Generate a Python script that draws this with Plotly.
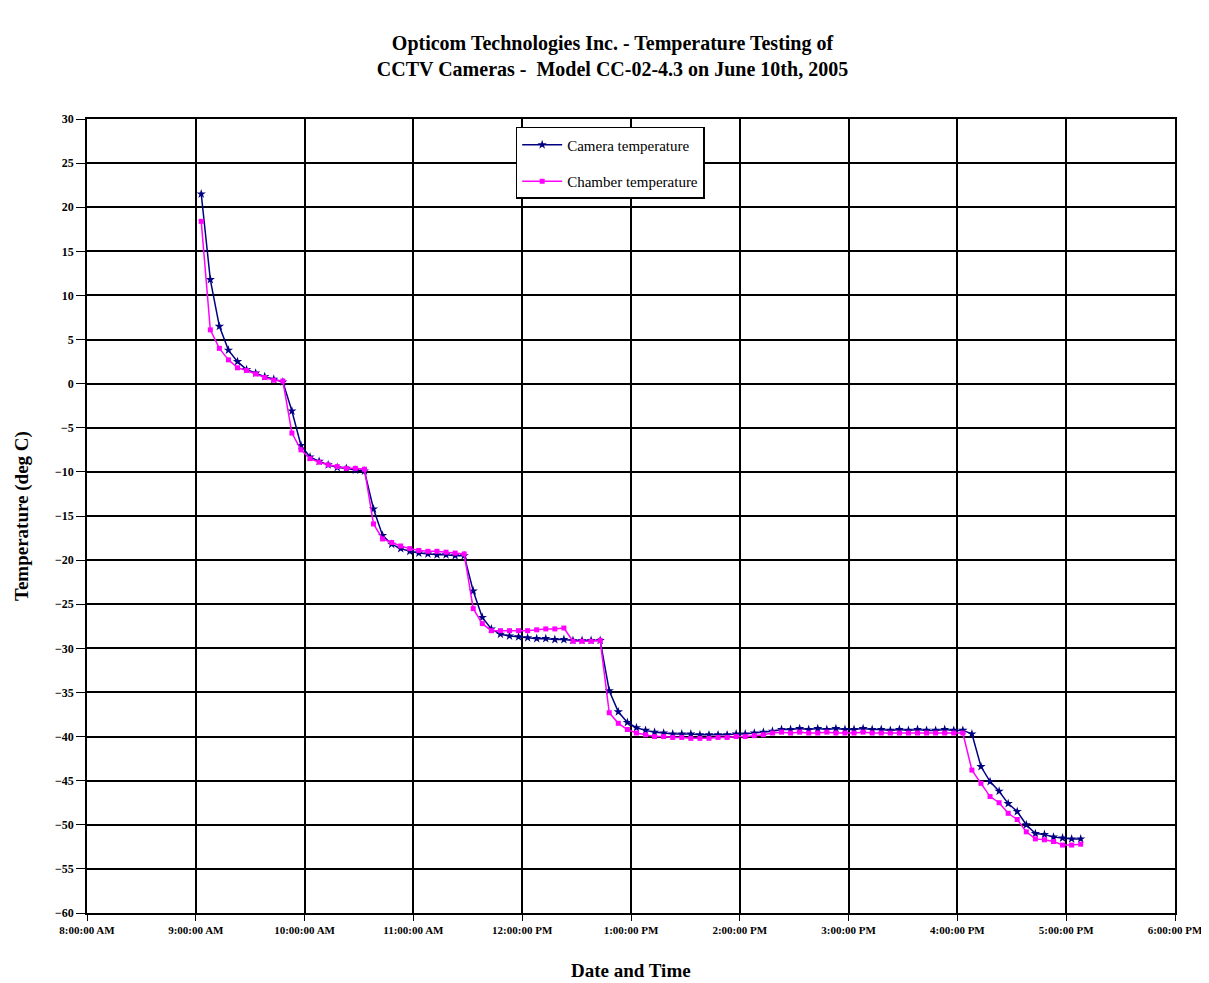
import pandas as pd
import plotly.graph_objects as go

# Sampling: logger readings every 5 minutes starting 9:03 AM
start_time = "2005-06-10 09:03:00"
interval_minutes = 5

camera_temp = [
    21.5, 11.8, 6.5, 3.8, 2.5, 1.6, 1.2, 0.8, 0.5, 0.2,
    -3.1, -7.0, -8.3, -8.8, -9.2, -9.5, -9.6, -9.8, -9.9,
    -14.2, -17.2, -18.2, -18.7, -19.0, -19.2, -19.3, -19.4, -19.4, -19.5, -19.5,
    -23.5, -26.5, -27.8, -28.4, -28.6, -28.7, -28.8, -28.9, -28.9, -29.0, -29.0,
    -29.1, -29.1, -29.1, -29.1,
    -34.8, -37.2, -38.4, -39.0, -39.3, -39.5, -39.6, -39.7, -39.7, -39.7, -39.8,
    -39.8, -39.8, -39.8, -39.7, -39.7, -39.6, -39.5, -39.4, -39.2,
    -39.2, -39.1, -39.2, -39.1, -39.2, -39.1, -39.2, -39.2, -39.1, -39.2,
    -39.2, -39.3, -39.2, -39.3, -39.2, -39.3, -39.3, -39.2, -39.3, -39.3,
    -39.7, -43.4, -45.1, -46.2, -47.6, -48.5, -50.0, -51.0, -51.1, -51.4,
    -51.5, -51.6, -51.6,
]

chamber_temp = [
    18.4, 6.1, 4.0, 2.7, 1.8, 1.5, 1.1, 0.7, 0.4, 0.3,
    -5.6, -7.5, -8.5, -8.9, -9.2, -9.4, -9.6, -9.6, -9.7,
    -15.9, -17.6, -18.0, -18.4, -18.7, -18.9, -19.0, -19.0, -19.1, -19.2, -19.3,
    -25.5, -27.2, -28.0, -28.0, -28.0, -28.0, -28.0, -27.9, -27.8, -27.8, -27.7,
    -29.2, -29.2, -29.2, -29.1,
    -37.3, -38.5, -39.2, -39.6, -39.8, -40.0, -40.0, -40.1, -40.1, -40.2, -40.2,
    -40.2, -40.1, -40.1, -40.0, -40.0, -39.9, -39.8, -39.6, -39.5,
    -39.6, -39.5, -39.6, -39.6, -39.5, -39.6, -39.6, -39.6, -39.5, -39.6,
    -39.6, -39.6, -39.6, -39.6, -39.6, -39.6, -39.6, -39.6, -39.6, -39.6,
    -43.8, -45.3, -46.8, -47.5, -48.7, -49.4, -50.8, -51.6, -51.7, -51.9,
    -52.3, -52.3, -52.2,
]

times = pd.date_range(start_time, periods=len(camera_temp), freq=f"{interval_minutes}min")

x_tick_vals = pd.date_range("2005-06-10 08:00:00", "2005-06-10 18:00:00", freq="1h")
x_tick_text = [t.strftime("%-I:%M:%S %p") for t in x_tick_vals]
y_tick_vals = list(range(-60, 31, 5))

serif = "Liberation Serif, Times New Roman, serif"

fig = go.Figure()
fig.add_trace(go.Scatter(
    x=times, y=camera_temp, mode="lines+markers", name="Camera temperature",
    legendgroup="cam",
    line=dict(color="#000080", width=1.5),
    marker=dict(symbol="star", size=7, color="#000080"),
))
fig.add_trace(go.Scatter(
    x=times, y=chamber_temp, mode="lines+markers", name="Chamber temperature",
    legendgroup="chm",
    line=dict(color="#FF00FF", width=1.5),
    marker=dict(symbol="square", size=5, color="#FF00FF"),
))

fig.update_layout(
    width=1209, height=983,
    paper_bgcolor="white", plot_bgcolor="white",
    margin=dict(l=79, r=42, t=111, b=78),
    title=dict(
        text="<b>Opticom Technologies Inc. - Temperature Testing of<br>CCTV Cameras -  Model CC-02-4.3 on June 10th, 2005</b>",
        x=0.5, xanchor="center", y=0.957, yanchor="middle",
        font=dict(family=serif, size=20, color="black"),
    ),
    font=dict(family=serif, color="black"),
    showlegend=True,
    legend=dict(
        x=0.394, y=0.99, xanchor="left", yanchor="top",
        bgcolor="white", bordercolor="black", borderwidth=1.5,
        font=dict(family=serif, size=15, color="black"),
        itemwidth=40, tracegroupgap=14,
    ),
    annotations=[
        dict(text="<b>Temperature (deg C)</b>", textangle=-90,
             xref="paper", yref="paper", x=-0.0597, y=0.5,
             xanchor="center", yanchor="middle", showarrow=False,
             font=dict(family=serif, size=19, color="black")),
        dict(text="<b>Date and Time</b>",
             xref="paper", yref="paper", x=0.5, y=-0.0718,
             xanchor="center", yanchor="middle", showarrow=False,
             font=dict(family=serif, size=19, color="black")),
    ],
)

fig.update_xaxes(
    range=[x_tick_vals[0], x_tick_vals[-1]],
    tickvals=x_tick_vals, ticktext=x_tick_text,
    tickfont=dict(family=serif, size=11, color="black", weight="bold"),
    showgrid=True, gridcolor="black", gridwidth=1.5,
    showline=True, linecolor="black", linewidth=1.5, mirror=True,
    ticks="outside", ticklen=6, tickcolor="black",
    zeroline=False, automargin=False,
)
fig.update_yaxes(
    range=[-60, 30],
    tickvals=y_tick_vals,
    tickfont=dict(family=serif, size=12, color="black", weight="bold"),
    showgrid=True, gridcolor="black", gridwidth=1.5,
    showline=True, linecolor="black", linewidth=1.5, mirror=True,
    ticks="outside", ticklen=9, tickcolor="black",
    zeroline=False, automargin=False,
)

fig.write_html("out.html")
